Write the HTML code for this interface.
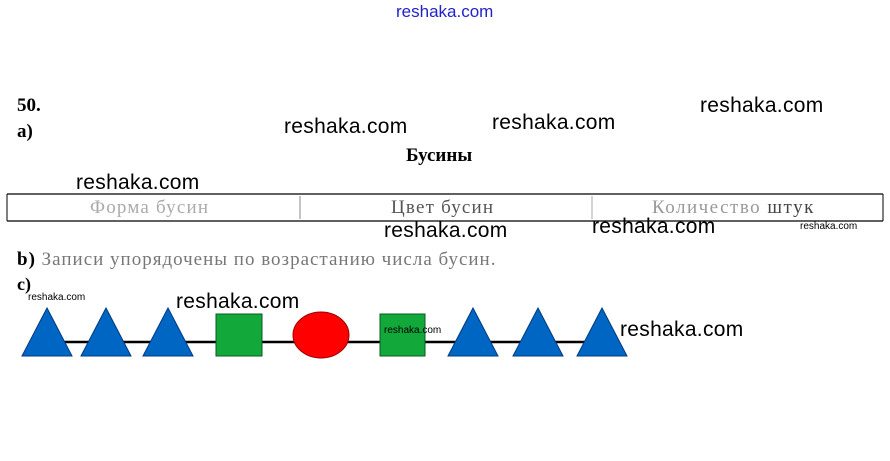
<!DOCTYPE html>
<html><head><meta charset="utf-8"><style>
html,body{margin:0;padding:0;background:#fff;width:890px;height:461px;overflow:hidden;position:relative}
.t{position:absolute;white-space:nowrap;line-height:1}
.s{font-family:"Liberation Serif","Noto Serif CJK SC",serif}
.w{font-family:"Liberation Sans","DejaVu Sans",sans-serif;color:#000;font-size:21px;letter-spacing:0.3px}
</style></head><body>
<div class="t w" style="left:396px;top:3px;font-size:17px;color:#2222cc;letter-spacing:0">reshaka.com</div>
<div class="t s" style="left:17px;top:96px;font-size:19px;font-weight:bold">50.</div>
<div class="t s" style="left:17px;top:122px;font-size:19px;font-weight:bold">a)</div>
<div class="t w" style="left:284px;top:116px">reshaka.com</div>
<div class="t w" style="left:492px;top:112px">reshaka.com</div>
<div class="t w" style="left:700px;top:95px">reshaka.com</div>
<div class="t s" style="left:406px;top:146px;font-size:19px;font-weight:bold">Бусины</div>
<div class="t w" style="left:76px;top:172px">reshaka.com</div>
<svg style="position:absolute;left:0;top:0" width="890" height="461">
<line x1="7" y1="194" x2="883" y2="194" stroke="#000" stroke-width="1.3"/>
<line x1="7" y1="221" x2="883" y2="221" stroke="#000" stroke-width="1.3"/>
<line x1="7" y1="194" x2="7" y2="221" stroke="#000"/>
<line x1="883" y1="194" x2="883" y2="221" stroke="#000"/>
<line x1="300" y1="196" x2="300" y2="219" stroke="#888"/>
<line x1="592" y1="196" x2="592" y2="219" stroke="#aaa"/>
<line x1="45" y1="342" x2="605" y2="342" stroke="#000" stroke-width="2.5"/>
<g fill="#0066c4" stroke="#003a80" stroke-width="1">
<polygon points="22,356 47,308 72,356"/>
<polygon points="81,356 106,308 131,356"/>
<polygon points="143,356 168,308 193,356"/>
<polygon points="448,356 473,308 498,356"/>
<polygon points="513,356 538,308 563,356"/>
<polygon points="577,356 602,308 627,356"/>
</g>
<rect x="216" y="314" width="46" height="42" fill="#12a83a" stroke="#0a5a20"/>
<rect x="380" y="314" width="45" height="42" fill="#12a83a" stroke="#0a5a20"/>
<ellipse cx="321" cy="335" rx="28" ry="23" fill="#ff0000" stroke="#900"/>
</svg>
<div class="t s" style="left:90px;top:198px;font-size:19px;letter-spacing:1.2px;color:#aaa">Форма бусин</div>
<div class="t s" style="left:391px;top:198px;font-size:19px;letter-spacing:1.2px;color:#555">Цвет бусин</div>
<div class="t s" style="left:652px;top:198px;font-size:19px;letter-spacing:1.5px;color:#999">Количество <span style="color:#444">штук</span></div>
<div class="t w" style="left:384px;top:220px">reshaka.com</div>
<div class="t w" style="left:592px;top:216px">reshaka.com</div>
<div class="t w" style="left:800px;top:222px;font-size:10px;letter-spacing:0">reshaka.com</div>
<div class="t s" style="left:17px;top:250px;font-size:19px;letter-spacing:1px;color:#777"><b style="color:#000">b)</b> Записи упорядочены по возрастанию числа бусин.</div>
<div class="t s" style="left:17px;top:275px;font-size:18px;font-weight:bold">c)</div>
<div class="t w" style="left:28px;top:293px;font-size:10px;letter-spacing:0">reshaka.com</div>
<div class="t w" style="left:176px;top:291px">reshaka.com</div>
<div class="t w" style="left:384px;top:326px;font-size:10px;letter-spacing:0">reshaka.com</div>
<div class="t w" style="left:620px;top:319px">reshaka.com</div>
</body></html>
